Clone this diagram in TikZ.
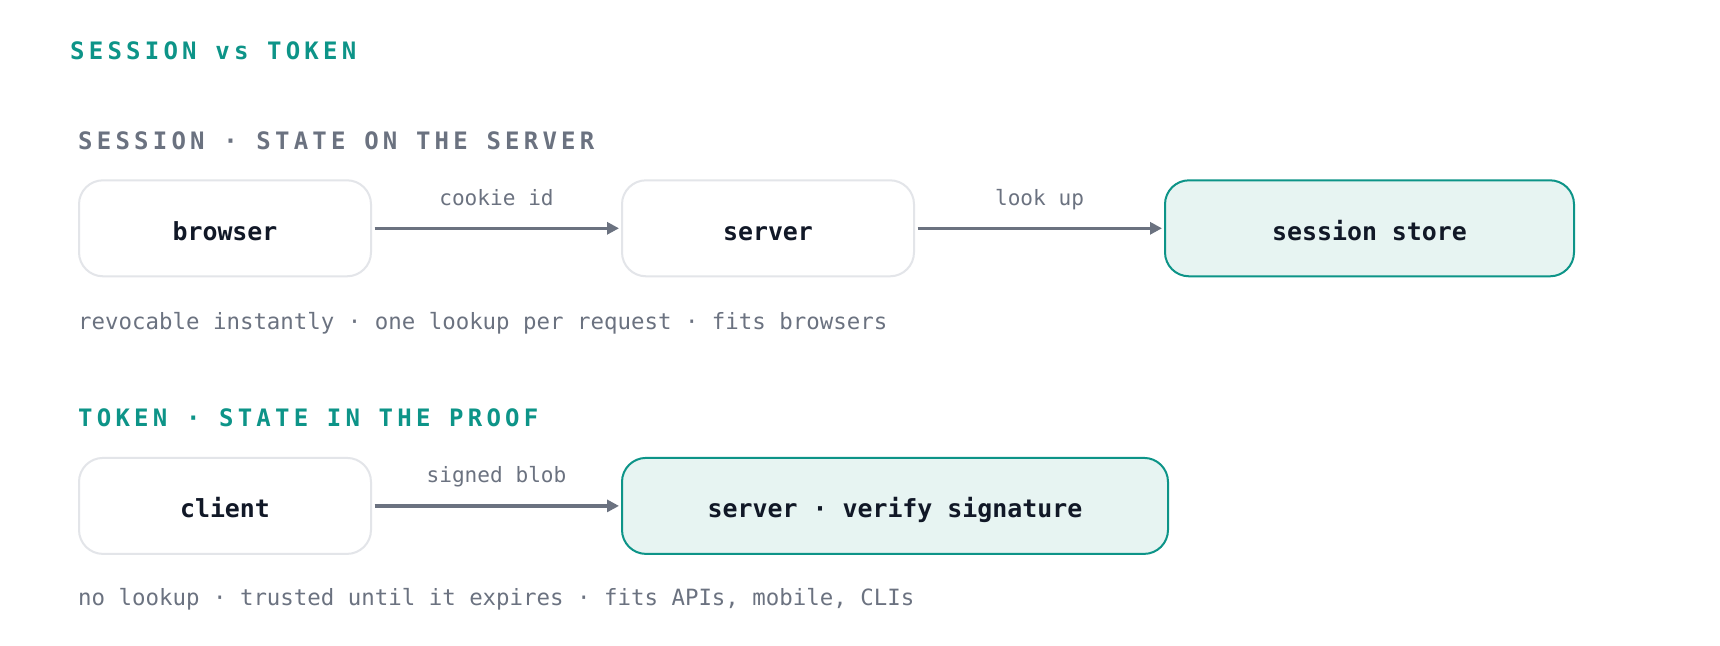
\documentclass[tikz,border=0pt]{standalone}
\usepackage{fontspec}
\setmainfont{DejaVu Sans Mono}
\newfontfamily\monofam{DejaVu Sans Mono}
\newfontfamily\headfam{DejaVu Sans Mono}[LetterSpace=17.6]
\usetikzlibrary{arrows.meta}
\definecolor{tealc}{HTML}{0D9488}
\definecolor{tealfill}{HTML}{E7F4F2}
\definecolor{slate}{HTML}{6B7280}
\definecolor{boxgray}{HTML}{E3E5E9}
\definecolor{ink}{HTML}{111827}
\begin{document}
\begin{tikzpicture}[x=1pt,y=-1pt,
  box/.style={draw=boxgray, line width=2pt, rounded corners=24pt,
    minimum height=96pt, minimum width=292pt, inner sep=0pt,
    text height=23.5pt, text depth=0pt, text=ink,
    font=\monofam\bfseries\fontsize{24.9}{28}\selectfont},
  hot/.style={box, draw=tealc, fill=tealfill},
  arr/.style={draw=slate, line width=3.5pt,
    -{Triangle[length=12pt,width=12pt]}, shorten >=2pt, shorten <=2.5pt},
  lbl/.style={anchor=base, inner sep=0pt, text=slate,
    font=\monofam\fontsize{21.1}{25}\selectfont},
  head/.style={anchor=base west, inner sep=0pt,
    font=\headfam\bfseries\fontsize{24}{28}\selectfont},
  note/.style={anchor=base west, inner sep=0pt, text=slate,
    font=\monofam\fontsize{22.4}{26}\selectfont}
]
\useasboundingbox (0,0) rectangle (1720,645);
\fill[white] (0,0) rectangle (1720,645);

\node[head, text=tealc] (title) at (70,59) {SESSION vs TOKEN};

\node[head, text=slate] (h1) at (78,149.3) {SESSION · STATE ON THE SERVER};
\node[box] (browser) at (225,228.3) {browser};
\node[box] (server) at (768,228.3) {server};
\node[hot, minimum width=409pt] (store) at (1369.5,228.3) {session store};
\draw[arr] (browser) -- node[lbl, yshift=23pt] (l1) {cookie id} (server);
\draw[arr] (server) -- node[lbl, yshift=23pt] (l2) {look up} (store);
\node[note] (n1) at (78,329.3) {revocable instantly · one lookup per request · fits browsers};

\node[head, text=tealc] (h2) at (78,426.7) {TOKEN · STATE IN THE PROOF};
\node[box] (client) at (225,505.9) {client};
\node[hot, minimum width=546pt] (verify) at (895,505.9) {server · verify signature};
\draw[arr] (client) -- node[lbl, yshift=23pt] (l3) {signed blob} (verify);
\node[note] (n2) at (78,605.7) {no lookup · trusted until it expires · fits APIs, mobile, CLIs};
\end{tikzpicture}
\end{document}
